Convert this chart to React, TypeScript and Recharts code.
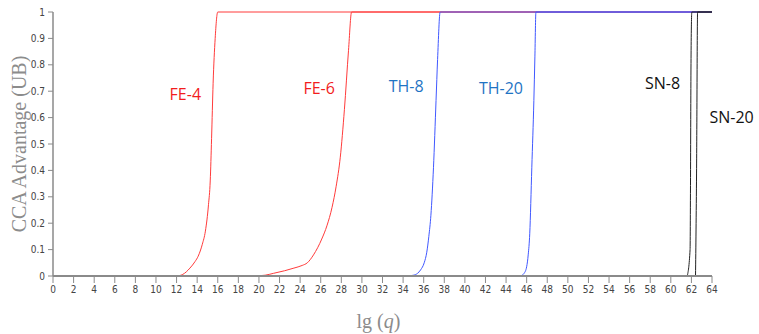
import { LineChart, Line, XAxis, YAxis, ReferenceDot } from 'recharts';

// [lg q, advantage] pairs
const FE4 = [[11, 0], [12, 0], [12.6, 0.006], [13.3, 0.03], [13.8, 0.055], [14.1, 0.075], [14.5, 0.12], [14.8, 0.17], [15.1, 0.27], [15.27, 0.36], [15.4, 0.52], [15.55, 0.73], [15.75, 0.9], [16, 1], [64, 1]];
const FE6 = [[19.4, 0], [20.6, 0.003], [21.4, 0.01], [22.5, 0.02], [23.4, 0.03], [24.2, 0.04], [24.7, 0.05], [25.3, 0.08], [26.1, 0.14], [26.6, 0.19], [27.1, 0.26], [27.5, 0.34], [27.9, 0.45], [28.3, 0.63], [28.7, 0.855], [29, 1], [64, 1]];
const TH8 = [[34.4, 0], [35, 0.003], [35.4, 0.01], [35.7, 0.023], [36.05, 0.05], [36.3, 0.09], [36.5, 0.15], [36.7, 0.23], [36.95, 0.41], [37.2, 0.665], [37.35, 0.82], [37.6, 1], [64, 1]];
const TH20 = [[45.4, 0], [45.75, 0.01], [46, 0.035], [46.15, 0.08], [46.3, 0.16], [46.5, 0.41], [46.7, 0.665], [46.8, 0.83], [46.9, 1], [64, 1]];
const SN8 = [[61.6, 0], [61.87, 0.1], [61.97, 0.855], [62.04, 1], [64, 1]];
const SN20 = [[62.4, 0], [62.5, 0.39], [62.6, 1], [64, 1]];

const xTicks = [0, 2, 4, 6, 8, 10, 12, 14, 16, 18, 20, 22, 24, 26, 28, 30, 32, 34, 36, 38, 40, 42, 44, 46, 48, 50, 52, 54, 56, 58, 60, 62, 64];
const yTicks = [0, 0.1, 0.2, 0.3, 0.4, 0.5, 0.6, 0.7, 0.8, 0.9, 1];

const curveLabels = [
  { name: 'FE-4', x: 12.85, y: 0.69, color: '#f21d1d' },
  { name: 'FE-6', x: 25.85, y: 0.71, color: '#f21d1d' },
  { name: 'TH-8', x: 34.3, y: 0.72, color: '#1f74c4' },
  { name: 'TH-20', x: 43.5, y: 0.71, color: '#1f74c4' },
  { name: 'SN-8', x: 59.2, y: 0.73, color: '#111' },
  { name: 'SN-20', x: 65.9, y: 0.6, color: '#111' },
];

const toPoints = (pts: number[][]) => pts.map(([x, y]) => ({ x, y }));

const series = [
  { key: 'fe4', pts: FE4, color: '#ff3b3b' },
  { key: 'fe6', pts: FE6, color: '#ff3b3b' },
  { key: 'th8', pts: TH8, color: '#4058ff' },
  { key: 'th20', pts: TH20, color: '#4058ff' },
  { key: 'sn8', pts: SN8, color: '#222' },
  { key: 'sn20', pts: SN20, color: '#222' },
];

const tickStyle = { fontSize: 10, fill: '#444', fontFamily: '"Liberation Sans Narrow", "DejaVu Sans Condensed", sans-serif' };

export default function App() {
  return (
    <div style={{ position: 'absolute', left: 0, top: 0, background: '#fff' }}>
      <LineChart width={759} height={334} margin={{ top: 12, right: 47, bottom: 0, left: 13 }}>
        <XAxis
          type="number"
          dataKey="x"
          domain={[0, 64]}
          ticks={xTicks}
          interval={0}
          height={58}
          tickSize={7}
          tickMargin={3}
          tick={tickStyle}
          stroke="#8a8a8a"
          axisLine={{ stroke: '#8a8a8a', strokeWidth: 2 }}
          tickLine={{ stroke: '#8a8a8a', strokeWidth: 1 }}
          allowDuplicatedCategory={false}
          label={{
            content: ({ viewBox }: any) => (
              <text
                x={viewBox.x + viewBox.width / 2 - 4}
                y={328}
                textAnchor="middle"
                fill="#8c8c8c"
                fontSize={20}
                fontFamily='"Liberation Serif", serif'
              >
                lg (<tspan fontStyle="italic">q</tspan>)
              </text>
            ),
          }}
        />
        <YAxis
          type="number"
          domain={[0, 1]}
          ticks={yTicks}
          interval={0}
          width={40}
          tickSize={5}
          tickMargin={3}
          tick={tickStyle}
          stroke="#8a8a8a"
          axisLine={{ stroke: '#8a8a8a', strokeWidth: 1.5 }}
          label={{
            content: ({ viewBox }: any) => {
              const cx = viewBox.x + 6;
              const cy = viewBox.y + viewBox.height / 2;
              return (
                <text
                  x={cx}
                  y={cy}
                  transform={`rotate(-90 ${cx} ${cy})`}
                  textAnchor="middle"
                  dominantBaseline="central"
                  fill="#8c8c8c"
                  fontSize={20}
                  fontFamily='"Liberation Serif", serif'
                >
                  CCA Advantage (UB)
                </text>
              );
            },
          }}
        />
        {series.map((s) => (
          <Line
            key={s.key}
            data={toPoints(s.pts)}
            dataKey="y"
            type="monotoneX"
            stroke={s.color}
            strokeWidth={1}
            dot={false}
            activeDot={false}
            isAnimationActive={false}
          />
        ))}
        {curveLabels.map((l) => (
          <ReferenceDot
            key={l.name}
            x={l.x}
            y={l.y}
            r={0}
            ifOverflow="visible"
            fill="none"
            stroke="none"
            label={{
              value: l.name,
              position: 'center',
              fill: l.color,
              fontSize: 16,
              fontFamily: '"Open Sans", sans-serif',
            }}
          />
        ))}
      </LineChart>
    </div>
  );
}
